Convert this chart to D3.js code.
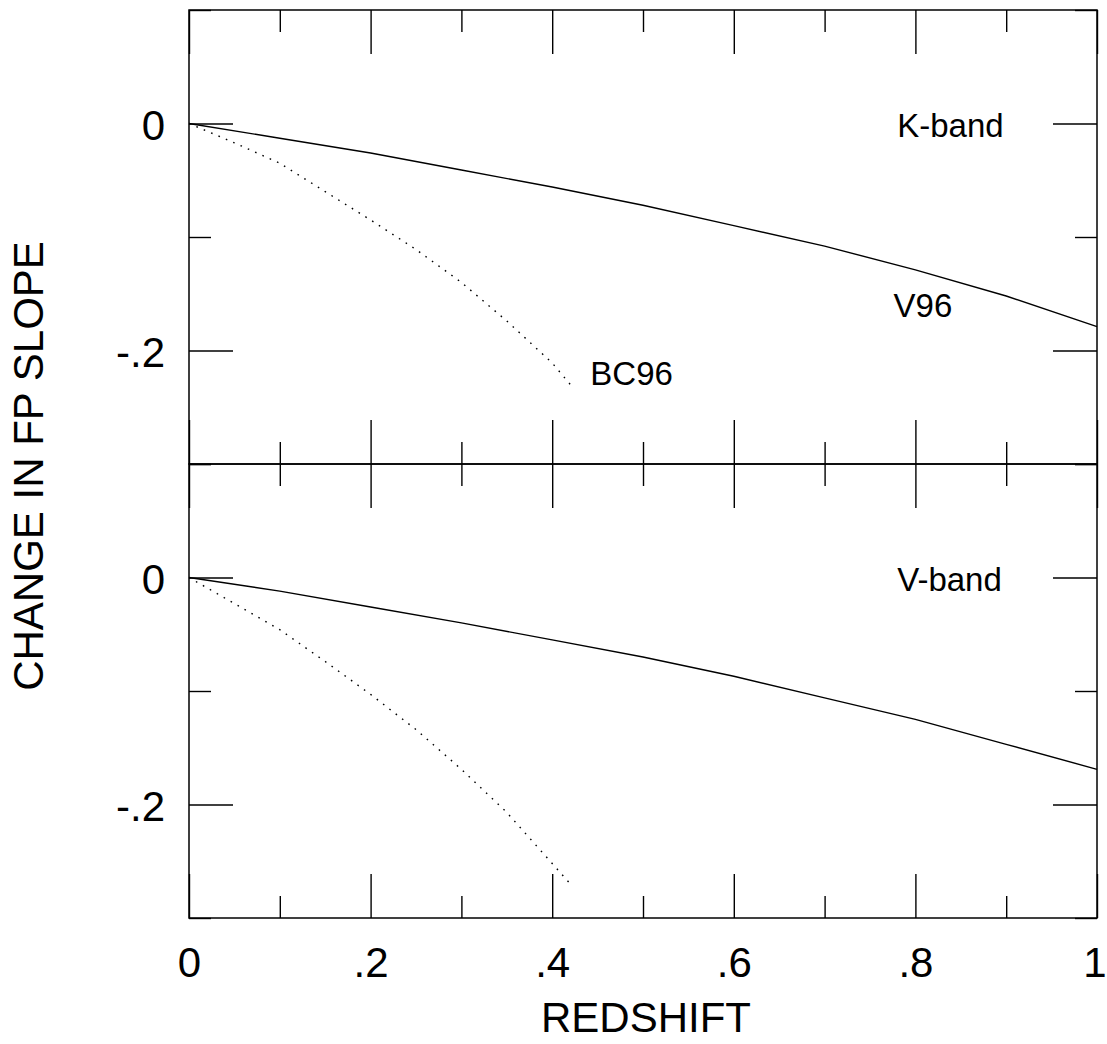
<!DOCTYPE html>
<html>
<head>
<meta charset="utf-8">
<script src="https://cdn.jsdelivr.net/npm/d3@7"></script>
<style>
  body { margin: 0; background: #fff; }
  svg { display: block; font-family: "Liberation Sans", Arial, Helvetica, sans-serif; }
  .tick line { stroke: #000; stroke-width: 1.4; }
</style>
</head>
<body>
<svg id="svg" width="1107" height="1044"></svg>
<script>
// data
const zSolid = [0, 0.1, 0.2, 0.3, 0.4, 0.5, 0.6, 0.7, 0.8, 0.9, 1.0];
const kV96 = [0, -0.013, -0.026, -0.041, -0.056, -0.072, -0.090, -0.108, -0.129, -0.152, -0.179];
const vV96 = [0, -0.012, -0.026, -0.040, -0.055, -0.070, -0.087, -0.106, -0.125, -0.147, -0.169];
const zDot = [0, 0.05, 0.1, 0.15, 0.2, 0.25, 0.3, 0.35, 0.4, 0.42];
const kBC96 = [0, -0.017, -0.035, -0.060, -0.085, -0.111, -0.140, -0.174, -0.211, -0.230];
const vBC96 = [0, -0.023, -0.046, -0.074, -0.103, -0.134, -0.169, -0.207, -0.252, -0.270];
const xMajor = [0, 0.2, 0.4, 0.6, 0.8, 1];
const xMinor = [0.1, 0.3, 0.5, 0.7, 0.9];
const yMajor = [0, -0.2];
const yMinor = [0.1, -0.1, -0.3];
const bandNames = ['K-band', 'V-band'];

const svg = d3.select('#svg');
const left = 189, right = 1097;
const x = d3.scaleLinear().domain([0, 1]).range([left, right]);

const fmt = d => String(d).replace('0.', '.');

const panels = [
  {top: 10, bottom: 464, solid: kV96, dot: kBC96, name: bandNames[0]},
  {top: 464, bottom: 918, solid: vV96, dot: vBC96, name: bandNames[1]}
];

panels.forEach((p, i) => {
  const y = d3.scaleLinear().domain([-0.3, 0.1]).range([p.bottom, p.top]);
  const g = svg.append('g');

  // ticks on all four sides, pointing inward
  const tickAxes = [
    [d3.axisBottom(x), `translate(0,${p.top})`, xMajor, xMinor],
    [d3.axisTop(x), `translate(0,${p.bottom})`, xMajor, xMinor],
    [d3.axisRight(y), `translate(${left},0)`, yMajor, yMinor],
    [d3.axisLeft(y), `translate(${right},0)`, yMajor, yMinor]
  ];
  tickAxes.forEach(([ax, tr, maj, min]) => {
    g.append('g').attr('transform', tr)
      .call(ax.tickValues(maj).tickSize(44).tickFormat(''))
      .call(s => s.select('.domain').remove());
    g.append('g').attr('transform', tr)
      .call(ax.tickValues(min).tickSize(22).tickFormat(''))
      .call(s => s.select('.domain').remove());
  });

  // frame
  g.append('rect')
    .attr('x', left).attr('y', p.top)
    .attr('width', right - left).attr('height', p.bottom - p.top)
    .attr('fill', 'none').attr('stroke', '#000').attr('stroke-width', 1.5);

  // y labels
  g.append('g').attr('transform', `translate(${left},0)`)
    .call(d3.axisLeft(y).tickValues(yMajor).tickSize(0).tickPadding(24).tickFormat(fmt))
    .call(s => s.select('.domain').remove())
    .selectAll('text')
      .attr('font-size', 42).attr('font-family', null).attr('dy', '0.37em').attr('fill', '#000');

  const line = d3.line().x(d => x(d[0])).y(d => y(d[1]));

  g.append('path')
    .datum(zSolid.map((z, j) => [z, p.solid[j]]))
    .attr('d', line).attr('fill', 'none').attr('stroke', '#000').attr('stroke-width', 1.4);

  g.append('path')
    .datum(zDot.map((z, j) => [z, p.dot[j]]))
    .attr('d', line).attr('fill', 'none').attr('stroke', '#000').attr('stroke-width', 1.4)
    .attr('stroke-dasharray', '1.6,6.4');

  g.append('text')
    .attr('x', x(0.78)).attr('y', y(-0.0115))
    .attr('font-size', 33).text(p.name);

  if (i === 0) {
    g.append('text').attr('x', x(0.776)).attr('y', y(-0.1705))
      .attr('font-size', 33).text('V96');
    g.append('text').attr('x', x(0.442)).attr('y', y(-0.2308))
      .attr('font-size', 33).text('BC96');
  }
});

// x labels along the bottom panel
svg.append('g').attr('transform', 'translate(0,918)')
  .call(d3.axisBottom(x).tickValues(xMajor).tickSize(0).tickPadding(29).tickFormat(fmt))
  .call(s => s.select('.domain').remove())
  .selectAll('text')
    .attr('font-size', 42).attr('font-family', null).attr('fill', '#000')
    // keep the last label inside the page
    .filter(d => d === 1)
      .attr('text-anchor', 'end').attr('dx', 9);

// axis titles
svg.append('text')
  .attr('x', 646).attr('y', 1032)
  .attr('text-anchor', 'middle').attr('font-size', 42)
  .text('REDSHIFT');

svg.append('text')
  .attr('transform', 'translate(43,466) rotate(-90)')
  .attr('text-anchor', 'middle').attr('font-size', 42)
  .text('CHANGE IN FP SLOPE');
</script>
</body>
</html>
